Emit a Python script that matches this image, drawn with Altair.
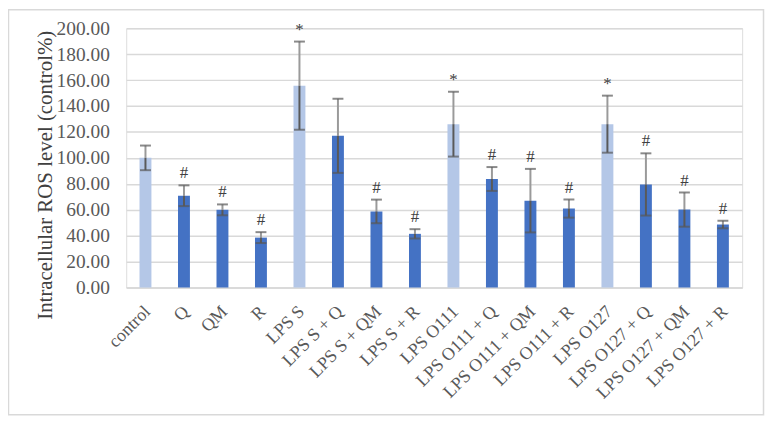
import altair as alt
import pandas as pd

categories = ["control", "Q", "QM", "R", "LPS S", "LPS S + Q", "LPS S + QM", "LPS S + R",
              "LPS O111", "LPS O111 + Q", "LPS O111 + QM", "LPS O111 + R",
              "LPS O127", "LPS O127 + Q", "LPS O127 + QM", "LPS O127 + R"]
values = [100.0, 70.8, 59.9, 38.5, 155.7, 117.0, 58.7, 41.4,
          126.0, 83.7, 67.0, 60.9, 126.0, 79.5, 60.1, 48.6]
errors = [9.5, 8.0, 4.2, 4.2, 34.0, 28.6, 9.1, 3.6,
          25.0, 9.2, 24.5, 7.0, 22.0, 24.0, 13.2, 2.9]
marks = ["", "#", "#", "#", "*", "", "#", "#", "*", "#", "#", "#", "*", "#", "#", "#"]
groups = ["base", "treat", "treat", "treat", "base", "treat", "treat", "treat",
          "base", "treat", "treat", "treat", "base", "treat", "treat", "treat"]
yticks = [0, 20, 40, 60, 80, 100, 120, 140, 160, 180, 200]

df = pd.DataFrame({"cat": categories, "val": values, "err": errors, "mark": marks, "grp": groups})
df["lo"] = df["val"] - df["err"]
df["hi"] = df["val"] + df["err"]

FONT = "Liberation Serif"
xaxis = alt.Axis(labelAngle=-45, labelFont=FONT, labelFontSize=18, labelColor="#595959",
                 ticks=False, domainColor="#d9d9d9", domainWidth=1.5, labelPadding=15,
                 labelOffset=-4, grid=False, labelOverlap=False)
xscale = alt.Scale(paddingInner=0.69, paddingOuter=0.345)
yaxis = alt.Axis(values=yticks, format=".2f", labelFont=FONT, labelOverlap=False,
                 labelFontSize=19.5, labelColor="#595959", ticks=False, domain=False,
                 labelPadding=17, gridColor="#d9d9d9", gridWidth=1.5,
                 titleFont=FONT, titleFontSize=21, titleFontWeight="normal",
                 titleColor="#404040", titleX=-81, titleY=147.5,
                 titleBaseline="middle", titleAngle=270, titleAlign="center")
yscale = alt.Scale(domain=[0, 200], nice=False)
YT = "Intracellular ROS level (control%)"


def X():
    return alt.X("cat:N", sort=categories, title=None, scale=xscale, axis=xaxis)


def Y(field):
    return alt.Y(field, scale=yscale, title=YT, axis=yaxis)


base = alt.Chart(df)

bars = base.mark_bar(size=12).encode(
    x=X(), y=Y("val:Q"),
    color=alt.Color("grp:N", scale=alt.Scale(domain=["base", "treat"], range=["#b4c7e7", "#4472c4"]),
                    legend=None),
)

err_up = base.mark_rule(color="#9a9a9a", strokeWidth=2).encode(x=X(), y=Y("val:Q"), y2="hi:Q")
err_dn = base.mark_rule(color="#595959", strokeWidth=2).encode(x=X(), y=Y("lo:Q"), y2="val:Q")
cap_hi = base.mark_tick(color="#595959", thickness=2, size=11).encode(x=X(), y=Y("hi:Q"))
cap_lo = base.mark_tick(color="#595959", thickness=2, size=11).encode(x=X(), y=Y("lo:Q"))

labels = base.mark_text(font=FONT, fontSize=17, color="#404040", baseline="alphabetic", dy=-7).encode(
    x=X(), y=Y("hi:Q"), text="mark:N")

frame = alt.Chart(pd.DataFrame({"a": [0]})).mark_rect(
    fill=None, stroke="#d9d9d9", strokeWidth=1.5).encode(
    x=alt.value(-118.5), x2=alt.value(641.5), y=alt.value(-18.5), y2=alt.value(389))

chart = alt.layer(bars, err_up, err_dn, cap_hi, cap_lo, labels, frame).properties(
    width=620, height=261,
    autosize=alt.AutoSizeParams(type="none"),
    padding={"left": 119, "top": 19, "right": 23, "bottom": 131},
).configure_view(stroke=None).configure(background="white")

chart.save("out.html", embed_options={"renderer": "svg", "actions": False})
